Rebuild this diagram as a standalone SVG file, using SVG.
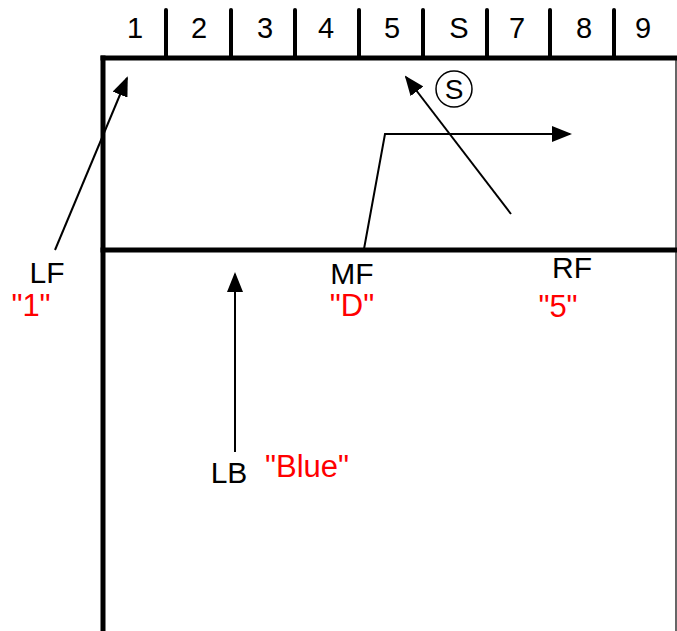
<svg xmlns="http://www.w3.org/2000/svg" width="677" height="631" viewBox="0 0 677 631">
  <style>
    .frame { stroke: #000; stroke-width: 5; fill: none; stroke-linecap: square; }
    .tick { stroke: #000; stroke-width: 4; stroke-linecap: round; }
    .route { stroke: #000; stroke-width: 2; fill: none; }
    .num { font-family: "Liberation Sans", Arial, sans-serif; font-size: 29px; fill: #000; text-anchor: middle; }
    .lbl { font-family: "Liberation Sans", Arial, sans-serif; font-size: 30px; fill: #000; text-anchor: middle; }
    .red { font-family: "Liberation Sans", Arial, sans-serif; font-size: 31px; fill: #ff0000; text-anchor: middle; }
    .snap { font-family: "Liberation Sans", Arial, sans-serif; font-size: 28px; fill: #000; text-anchor: middle; }
  </style>
  <defs>
    <marker id="arrow" markerWidth="10" markerHeight="8" refX="9" refY="4" orient="auto" markerUnits="strokeWidth">
      <path d="M0,0 L10,4 L0,8 Z" fill="#000"/>
    </marker>
  </defs>
  <rect width="677" height="631" fill="#fff"/>

  <g id="field">
    <line class="frame" x1="103" y1="58" x2="677" y2="58"/>
    <line class="frame" x1="103" y1="58" x2="103" y2="631"/>
    <line class="frame" x1="103" y1="250" x2="677" y2="250"/>
    <line x1="676" y1="58" x2="676" y2="631" stroke="#000" stroke-width="1.2"/>
  </g>

  <g id="zones">
    <line class="tick" x1="166" y1="10" x2="166" y2="58"/>
    <line class="tick" x1="231" y1="10" x2="231" y2="58"/>
    <line class="tick" x1="295" y1="10" x2="295" y2="58"/>
    <line class="tick" x1="359" y1="10" x2="359" y2="58"/>
    <line class="tick" x1="423" y1="10" x2="423" y2="58"/>
    <line class="tick" x1="487" y1="10" x2="487" y2="58"/>
    <line class="tick" x1="550" y1="10" x2="550" y2="58"/>
    <line class="tick" x1="614" y1="10" x2="614" y2="58"/>
    <text class="num" x="135" y="38">1</text>
    <text class="num" x="199" y="38">2</text>
    <text class="num" x="265" y="38">3</text>
    <text class="num" x="326" y="38">4</text>
    <text class="num" x="392" y="38">5</text>
    <text class="num" x="459" y="38">S</text>
    <text class="num" x="517" y="38">7</text>
    <text class="num" x="584" y="38">8</text>
    <text class="num" x="643" y="38">9</text>
  </g>

  <g id="connectors">
    <line class="route" x1="55" y1="250" x2="127" y2="78" marker-end="url(#arrow)"/>
    <line class="route" x1="511" y1="214" x2="406" y2="77" marker-end="url(#arrow)"/>
    <polyline class="route" points="364,249 385,134 570,134" marker-end="url(#arrow)"/>
    <line class="route" x1="235" y1="452" x2="235" y2="274" marker-end="url(#arrow)"/>
  </g>

  <g id="snap">
    <circle cx="454" cy="89" r="18" fill="none" stroke="#000" stroke-width="1.5"/>
    <text class="snap" x="454" y="99">S</text>
  </g>

  <g id="LF">
    <text class="lbl" x="47" y="283">LF</text>
    <text class="red" x="31" y="316">"1"</text>
  </g>
  <g id="MF">
    <text class="lbl" x="352" y="284">MF</text>
    <text class="red" x="352" y="316">"D"</text>
  </g>
  <g id="RF">
    <text class="lbl" x="572" y="278">RF</text>
    <text class="red" x="558" y="317">"5"</text>
  </g>
  <g id="LB">
    <text class="lbl" x="229" y="483">LB</text>
    <text class="red" x="307" y="477">"Blue"</text>
  </g>
</svg>
